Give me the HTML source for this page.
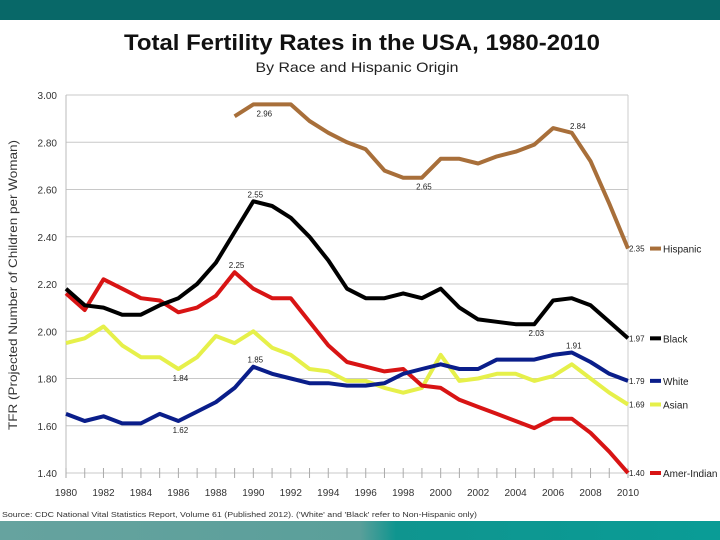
<!DOCTYPE html>
<html><head><meta charset="utf-8"><style>
html,body{margin:0;padding:0;background:#fff;}
svg{display:block;font-family:"Liberation Sans",Arial,sans-serif;}
</style></head><body>
<svg id="chart" width="720" height="540" viewBox="0 0 720 540" xmlns="http://www.w3.org/2000/svg">
<defs><linearGradient id="fg" x1="0" x2="1" y1="0" y2="0"><stop offset="0" stop-color="#66a39f"/><stop offset="0.5" stop-color="#5a9f9a"/><stop offset="0.55" stop-color="#0f958f"/><stop offset="1" stop-color="#0a9c96"/></linearGradient></defs>
<rect x="0" y="0" width="720" height="20" fill="#086868"/>
<rect x="0" y="521" width="720" height="19" fill="url(#fg)"/>
<text x="362" y="50" text-anchor="middle" font-size="22" font-weight="bold" textLength="476" lengthAdjust="spacingAndGlyphs" fill="#111">Total Fertility Rates in the USA, 1980-2010</text>
<text x="357" y="72" text-anchor="middle" font-size="14" textLength="203" lengthAdjust="spacingAndGlyphs" fill="#222">By Race and Hispanic Origin</text>
<text transform="translate(17,285) rotate(-90)" text-anchor="middle" font-size="12" fill="#333" textLength="290" lengthAdjust="spacingAndGlyphs">TFR (Projected Number of Children per Woman)</text>
<text x="2" y="517" font-size="7.5" fill="#333" textLength="475" lengthAdjust="spacingAndGlyphs">Source: CDC National Vital Statistics Report, Volume 61 (Published 2012). ('White' and 'Black' refer to Non-Hispanic only)</text>
<g id="grid"></g><g id="axes"></g><g id="series"></g><g id="labels"></g>
</svg>
<script>
const years = [1980,1981,1982,1983,1984,1985,1986,1987,1988,1989,1990,1991,1992,1993,1994,1995,1996,1997,1998,1999,2000,2001,2002,2003,2004,2005,2006,2007,2008,2009,2010];
const yTicks = [1.40,1.60,1.80,2.00,2.20,2.40,2.60,2.80,3.00];
const xTickLabels = [1980,1982,1984,1986,1988,1990,1992,1994,1996,1998,2000,2002,2004,2006,2008,2010];
const hispanicYears = [1989,1990,1991,1992,1993,1994,1995,1996,1997,1998,1999,2000,2001,2002,2003,2004,2005,2006,2007,2008,2009,2010];
const hispanic = [2.91,2.96,2.96,2.96,2.89,2.84,2.80,2.77,2.68,2.65,2.65,2.73,2.73,2.71,2.74,2.76,2.79,2.86,2.84,2.72,2.54,2.35];
const black = [2.18,2.11,2.10,2.07,2.07,2.11,2.14,2.20,2.29,2.42,2.55,2.53,2.48,2.40,2.30,2.18,2.14,2.14,2.16,2.14,2.18,2.10,2.05,2.04,2.03,2.03,2.13,2.14,2.11,2.04,1.97];
const amerIndian = [2.16,2.09,2.22,2.18,2.14,2.13,2.08,2.10,2.15,2.25,2.18,2.14,2.14,2.04,1.94,1.87,1.85,1.83,1.84,1.77,1.76,1.71,1.68,1.65,1.62,1.59,1.63,1.63,1.57,1.49,1.40];
const asian = [1.95,1.97,2.02,1.94,1.89,1.89,1.84,1.89,1.98,1.95,2.00,1.93,1.90,1.84,1.83,1.79,1.79,1.76,1.74,1.76,1.90,1.79,1.80,1.82,1.82,1.79,1.81,1.86,1.80,1.74,1.69];
const white = [1.65,1.62,1.64,1.61,1.61,1.65,1.62,1.66,1.70,1.76,1.85,1.82,1.80,1.78,1.78,1.77,1.77,1.78,1.82,1.84,1.86,1.84,1.84,1.88,1.88,1.88,1.90,1.91,1.87,1.82,1.79];
const seriesNames = ["Hispanic","Black","White","Asian","Amer-Indian"];
const pointLabels = [["hispanic",1990,"2.96"],["hispanic",1999,"2.65"],["hispanic",2007,"2.84"],["black",1990,"2.55"],["black",2005,"2.03"],["amerIndian",1989,"2.25"],["asian",1986,"1.84"],["white",1990,"1.85"],["white",1986,"1.62"],["white",2007,"1.91"]];

const NS="http://www.w3.org/2000/svg";
const X0=66,X1=628,Y0=473,Y1=95;
const xs=y=>X0+(y-1980)*(X1-X0)/30;
const ys=v=>Y0-(v-1.4)*(Y0-Y1)/1.6;
function mk(tag,attrs,parent,text){const e=document.createElementNS(NS,tag);for(const k in attrs)e.setAttribute(k,attrs[k]);if(text!==undefined)e.textContent=text;document.getElementById(parent).appendChild(e);return e;}

yTicks.forEach(t=>{
  const l=mk('line',{x1:X0,x2:X1,y1:ys(t),y2:ys(t),stroke:'#c8c8c8','stroke-width':1},'grid');
  
  
  const tx=mk('text',{x:X0-9,y:ys(t)+4,'text-anchor':'end','font-size':10,fill:'#333'},'axes',t.toFixed(2));
  
  
});
const ax=mk('line',{x1:X0,x2:X0,y1:Y1,y2:Y0,stroke:'#bbb'},'axes');


const rx=mk('line',{x1:X1,x2:X1,y1:Y1,y2:Y0,stroke:'#ccc'},'axes');


years.forEach(y=>{
  const tk=mk('line',{x1:xs(y),x2:xs(y),y1:Y0-5,y2:Y0+5,stroke:'#aaa'},'axes');
  
  
});
xTickLabels.forEach(y=>{
  const tx=mk('text',{x:xs(y),y:Y0+23,'text-anchor':'middle','font-size':10,fill:'#333'},'axes',String(y));
  
  
});

const data={hispanic:[hispanicYears,hispanic,'#a86f3a'],black:[years,black,'#000000'],white:[years,white,'#0a1e8a'],asian:[years,asian,'#e6f04a'],amerIndian:[years,amerIndian,'#d81414']};
const order=['hispanic','asian','amerIndian','white','black'];
order.forEach(k=>{
  const [yy,vv,c]=data[k];
  const pts=yy.map((y,i)=>xs(y).toFixed(1)+','+ys(vv[i]).toFixed(1)).join(' ');
  const p=mk('polyline',{points:pts,fill:'none',stroke:c,'stroke-width':4,'stroke-linejoin':'round'},'series');
  
  
});
// end labels + legend
const legendKeys=['hispanic','black','white','asian','amerIndian'];
legendKeys.forEach((k,i)=>{
  const [yy,vv,c]=data[k];
  const v=vv[vv.length-1];const y=ys(v);
  const ly=(k==='amerIndian')?y:y;
  const t=mk('text',{x:X1+1,y:ly+3,'font-size':8,fill:'#222'},'labels',v.toFixed(2));
  
  
  const sw=mk('rect',{x:X1+22,y:ly-2,width:11,height:4,fill:c},'labels');
  
  
  const lt=mk('text',{x:X1+35,y:ly+4,'font-size':10,fill:'#222'},'labels',seriesNames[i]);
  
  
});
pointLabels.forEach(([k,yr,txt])=>{
  const [yy,vv]=data[k];const v=vv[yy.indexOf(yr)];
  const below=(k==='hispanic'&&yr!==2007)||(k==='black'&&yr===2005)||(k==='asian')||(k==='white'&&yr===1986);
  const t=mk('text',{x:xs(yr)+(k==='hispanic'&&yr===2007?6:2)+ (k==='hispanic'&&yr===1990?9:0),y:below?ys(v)+12:ys(v)-4,'text-anchor':'middle','font-size':8,fill:'#222'},'labels',txt);
  
  
});
</script>
</body></html>
